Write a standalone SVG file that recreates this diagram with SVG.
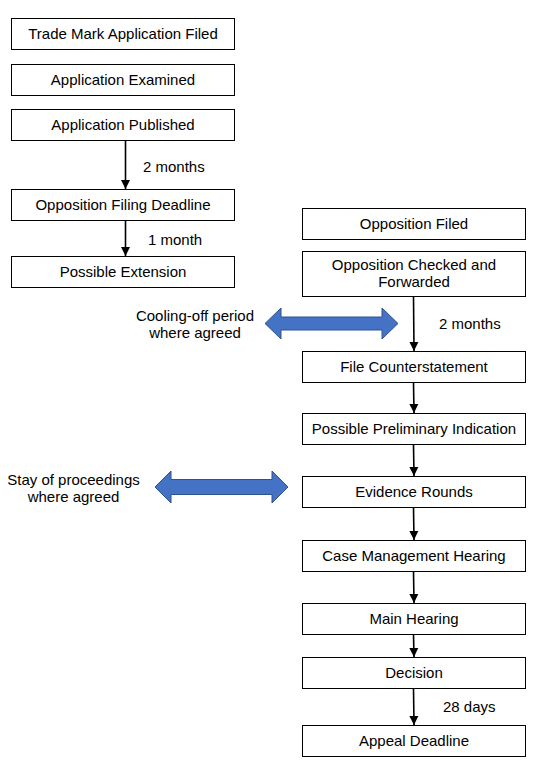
<svg xmlns="http://www.w3.org/2000/svg" width="539" height="771" viewBox="0 0 539 771">
<style>
.box{fill:#fff;stroke:#000;stroke-width:1}
.t{font-family:"Liberation Sans",Arial,sans-serif;font-size:15px;fill:#000;text-anchor:middle}
.l{font-family:"Liberation Sans",Arial,sans-serif;font-size:15px;fill:#000}
.c{stroke:#000;stroke-width:1.6;fill:none;marker-end:url(#ah)}
.blue{fill:#4472C4;stroke:#2F528F;stroke-width:1}
</style>
<defs>
<marker id="ah" markerUnits="userSpaceOnUse" markerWidth="10" markerHeight="10" refX="9" refY="5" orient="auto">
<path d="M0,0.5 L9,5 L0,9.5 Z" fill="#000"/>
</marker>
</defs>
<rect width="539" height="771" fill="#fff"/>
<g id="n1"><rect class="box" x="11.5" y="18.5" width="223" height="31"/><text class="t" x="123" y="38.5">Trade Mark Application Filed</text></g>
<g id="n2"><rect class="box" x="11.5" y="64.5" width="223" height="31"/><text class="t" x="123" y="84.5">Application Examined</text></g>
<g id="n3"><rect class="box" x="11.5" y="109.5" width="223" height="31"/><text class="t" x="123" y="129.5">Application Published</text></g>
<g id="n4"><rect class="box" x="11.5" y="189.5" width="223" height="31"/><text class="t" x="123" y="209.5">Opposition Filing Deadline</text></g>
<g id="n5"><rect class="box" x="11.5" y="256.5" width="223" height="31"/><text class="t" x="123" y="276.5">Possible Extension</text></g>
<g id="r1"><rect class="box" x="302.5" y="208.5" width="223" height="31"/><text class="t" x="414" y="228.5">Opposition Filed</text></g>
<g id="r2"><rect class="box" x="302.5" y="251.5" width="223" height="45"/><text class="t" x="414" y="269.5">Opposition Checked and</text><text class="t" x="414" y="286.5">Forwarded</text></g>
<g id="r3"><rect class="box" x="302.5" y="351.5" width="223" height="31"/><text class="t" x="414" y="371.5">File Counterstatement</text></g>
<g id="r4"><rect class="box" x="302.5" y="413.5" width="223" height="31"/><text class="t" x="414" y="433.5">Possible Preliminary Indication</text></g>
<g id="r5"><rect class="box" x="302.5" y="476.5" width="223" height="31"/><text class="t" x="414" y="496.5">Evidence Rounds</text></g>
<g id="r6"><rect class="box" x="302.5" y="540.5" width="223" height="31"/><text class="t" x="414" y="560.5">Case Management Hearing</text></g>
<g id="r7"><rect class="box" x="302.5" y="603.5" width="223" height="31"/><text class="t" x="414" y="623.5">Main Hearing</text></g>
<g id="r8"><rect class="box" x="302.5" y="657.5" width="223" height="31"/><text class="t" x="414" y="677.5">Decision</text></g>
<g id="r9"><rect class="box" x="302.5" y="725.5" width="223" height="31"/><text class="t" x="414" y="745.5">Appeal Deadline</text></g>
<g id="cooling"><polygon class="blue" points="265,323.5 281,308 281,317 382,317 382,308 398,323.5 382,339 382,330 281,330 281,339"/><text class="t" x="195" y="321">Cooling-off period</text><text class="t" x="195" y="338">where agreed</text></g>
<g id="stay"><polygon class="blue" points="155,487 171,471 171,479.5 272,479.5 272,471 288,487 272,503 272,494.5 171,494.5 171,503"/><text class="t" x="73.5" y="485">Stay of proceedings</text><text class="t" x="73.5" y="502">where agreed</text></g>
<g id="connectors">
<line class="c" x1="125.5" y1="141" x2="125.5" y2="189"/>
<line class="c" x1="125.5" y1="221" x2="125.5" y2="256"/>
<line class="c" x1="413.5" y1="297" x2="414" y2="351"/>
<line class="c" x1="413.5" y1="383" x2="414" y2="413"/>
<line class="c" x1="413.5" y1="445" x2="414" y2="476"/>
<line class="c" x1="413.5" y1="508" x2="414" y2="540"/>
<line class="c" x1="413.5" y1="572" x2="414" y2="603"/>
<line class="c" x1="413.5" y1="635" x2="414" y2="657"/>
<line class="c" x1="413.5" y1="689" x2="414" y2="725"/>
<text class="l" x="143" y="172">2 months</text>
<text class="l" x="148" y="245">1 month</text>
<text class="l" x="439" y="329">2 months</text>
<text class="l" x="443" y="712">28 days</text>
</g>
</svg>
